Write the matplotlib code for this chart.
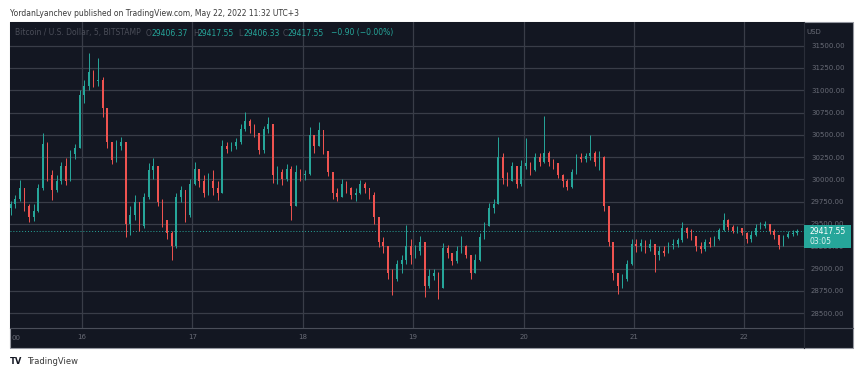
import numpy as np
import matplotlib.pyplot as plt
from matplotlib.patches import Rectangle

# hourly candles, BTC/USD (Bitstamp), 15 May 08:00 -> 22 May 11:00 (UTC+3)
first_open = 29680
closes = [
    29720, 29780, 29900, 29700, 29580, 29650, 29900, 30400, 30050, 29880, 29980, 30150, 29980, 30280, 30350, 30950,
    31050, 31200, 31100, 31120, 30800, 30420, 30220, 30380, 30420, 29500, 29600, 29750, 29480, 29800, 30100, 30150, 29750, 29550, 29400, 29250, 29800, 29880, 29600, 29950,
    30120, 29980, 29850, 29980, 29900, 29850, 30380, 30340, 30370, 30420, 30560, 30650, 30600, 30520, 30330, 30560, 30620, 30050, 30080, 30000, 30120, 29700, 30080, 30050,
    30060, 30500, 30380, 30550, 30320, 30080, 29850, 29800, 29950, 29900, 29820, 29850, 29950, 29900, 29820, 29580, 29300, 29250, 28950, 28880, 29050, 29100, 29250, 29150,
    29200, 29300, 28800, 28920, 28950, 28780, 29230, 29180, 29080, 29200, 29250, 29150, 28950, 29100, 29350, 29480, 29680, 29720, 30250, 30020, 29980, 30150, 29950, 30150,
    30180, 30100, 30250, 30200, 30300, 30200, 30180, 30050, 29980, 29920, 30080, 30250, 30230, 30260, 30300, 30200, 30250, 29700, 29300, 28950, 28800, 28880, 29050, 29280,
    29250, 29290, 29230, 29270, 29150, 29200, 29180, 29260, 29280, 29320, 29450, 29400, 29360, 29250, 29220, 29300, 29270, 29330, 29430, 29550, 29470, 29420, 29450, 29400,
    29330, 29380, 29460, 29480, 29500, 29420, 29380, 29260, 29350, 29390, 29400, 29417.55,
]
highs = [
    29760, 29830, 29990, 29900, 29720, 29720, 29950, 30520, 30420, 30100, 30050, 30200, 30240, 30330, 30400, 31000,
    31120, 31420, 31230, 31360, 31150, 30800, 30420, 30440, 30480, 30420, 29700, 29820, 29750, 29850, 30180, 30240, 30150, 29780, 29550, 29420, 29850, 29930, 29880, 30000,
    30200, 30120, 30050, 30070, 30100, 29980, 30440, 30420, 30420, 30460, 30620, 30760, 30680, 30620, 30500, 30600, 30700, 30620, 30150, 30120, 30170, 30150, 30160, 30120,
    30110, 30590, 30480, 30640, 30550, 30320, 30080, 29900, 30000, 29980, 29920, 29900, 29990, 29970, 29880, 29860, 29580, 29350, 29250, 29000, 29100, 29150, 29490, 29330,
    29260, 29360, 29300, 28990, 29000, 28960, 29290, 29260, 29180, 29250, 29370, 29260, 29150, 29160, 29400, 29520, 29740, 29780, 30480, 30300, 30080, 30200, 30150, 30220,
    30470, 30200, 30300, 30300, 30710, 30320, 30230, 30180, 30060, 30000, 30120, 30290, 30300, 30300, 30500, 30320, 30320, 30260, 29700, 29300, 28950, 28940, 29100, 29330,
    29330, 29330, 29320, 29330, 29280, 29250, 29250, 29300, 29330, 29340, 29520, 29470, 29440, 29360, 29300, 29330, 29350, 29370, 29460, 29620, 29560, 29490, 29480, 29460,
    29410, 29420, 29500, 29520, 29530, 29500, 29440, 29380, 29380, 29420, 29430, 29440,
]
lows = [
    29600, 29680, 29760, 29650, 29520, 29530, 29640, 29880, 29980, 29770, 29860, 29950, 29940, 29980, 30230, 30350,
    30860, 31000, 31040, 31050, 30700, 30350, 30170, 30200, 30330, 29350, 29380, 29550, 29420, 29450, 29780, 30000, 29700, 29470, 29330, 29100, 29230, 29750, 29520, 29580,
    29940, 29920, 29800, 29820, 29830, 29770, 29850, 30300, 30320, 30340, 30400, 30540, 30520, 30480, 30280, 30300, 30520, 29960, 29950, 29940, 29980, 29540, 29700, 29980,
    29990, 30050, 30300, 30380, 30280, 30040, 29780, 29760, 29800, 29850, 29780, 29760, 29840, 29850, 29780, 29500, 29240, 29180, 28880, 28700, 28860, 28950, 29050, 29050,
    29120, 29150, 28680, 28780, 28870, 28660, 28780, 29120, 29040, 29060, 29180, 29120, 28880, 28950, 29080, 29330, 29480, 29620, 29720, 29950, 29930, 29980, 29900, 29930,
    30120, 30050, 30090, 30150, 30180, 30150, 30120, 30020, 29920, 29880, 29900, 30060, 30190, 30200, 30220, 30150, 30100, 29650, 29250, 28870, 28720, 28780, 28860, 29040,
    29190, 29200, 29180, 29200, 28960, 29100, 29140, 29170, 29220, 29240, 29300, 29340, 29320, 29200, 29170, 29200, 29240, 29250, 29320, 29420, 29430, 29400, 29400, 29380,
    29290, 29300, 29370, 29440, 29450, 29390, 29330, 29220, 29250, 29340, 29360, 29380,
]
day_labels = ["16", "17", "18", "19", "20", "21", "22"]
price_ticks = [28500, 28750, 29000, 29250, 29500, 29750, 30000, 30250, 30500, 30750, 31000, 31250, 31500]
last_price = 29417.55

W, H = 860, 367
BG = "#131722"
UP = "#26a69a"
DOWN = "#ef5350"
GRID = "#393d48"
TXT = "#686b76"


def box(x0, y0, x1, y1):
    # pixel box (top-left origin) -> figure fraction rect
    return [x0 / W, 1 - y1 / H, (x1 - x0) / W, (y1 - y0) / H]


def main():
    fig = plt.figure(figsize=(W / 100, H / 100), dpi=100, facecolor="white")

    #### dark panel behind everything (chart + price scale + time scale)
    fig.patches.append(Rectangle((10 / W, 1 - 348 / H), 843 / W, 326 / H, transform=fig.transFigure,
                                 facecolor=BG, edgecolor="#9598a1", lw=0.8, zorder=-5))

    ax = fig.add_axes(box(10, 22, 804, 328))
    ax.set_zorder(1)
    ax.set_facecolor(BG)

    n = len(closes)
    t = 8.5 + np.arange(n)  # hour centres, 0 = 15 May 00:00
    opens = [first_open] + closes[:-1]
    cols = [UP if c >= o else DOWN for o, c in zip(opens, closes)]
    ax.vlines(t, lows, highs, colors=cols, lw=0.7, zorder=3)
    bottoms = [min(o, c) for o, c in zip(opens, closes)]
    heights = [max(abs(c - o), 6) for o, c in zip(opens, closes)]
    ax.bar(t, heights, bottom=bottoms, width=0.42, color=cols, lw=0, zorder=4)

    #### current price dotted line
    ax.axhline(last_price, color=UP, lw=0.7, ls=(0, (1, 2)), zorder=2)

    ax.set_xlim(8.348, 180.96)
    ax.set_ylim(28333, 31766)

    ax.set_xticks([24 * (i + 1) for i in range(len(day_labels))])
    ax.set_xticklabels(day_labels)
    ax.set_yticks(price_ticks)
    ax.set_yticklabels(["%.2f" % p for p in price_ticks])
    ax.yaxis.tick_right()
    ax.tick_params(axis="both", length=0, colors=TXT, labelsize=5)
    ax.tick_params(axis="y", pad=5)
    ax.tick_params(axis="x", pad=4)
    ax.grid(True, color=GRID, lw=0.9, zorder=1)
    for s in ax.spines.values():
        s.set_visible(False)

    #### scale separators
    fig.add_artist(plt.Line2D([804 / W, 804 / W], [1 - 348 / H, 1 - 22 / H], color="#2a2e39", lw=0.8, zorder=2))
    fig.add_artist(plt.Line2D([10 / W, 853 / W], [1 - 328 / H, 1 - 328 / H], color="#4a4e59", lw=0.8, zorder=2))

    fig.text(11 / W, 1 - 338 / H, "00", fontsize=5, color=TXT, va="center", ha="left")
    fig.text(806 / W, 1 - 32 / H, "USD", fontsize=5, color=TXT, va="center", ha="left")

    #### last price label
    fig.patches.append(Rectangle((804 / W, 1 - 248 / H), 47 / W, 23 / H, transform=fig.transFigure,
                                 facecolor=UP, edgecolor="none", zorder=5))
    fig.text(810 / W, 1 - 231.5 / H, "%.2f" % last_price, fontsize=5.5, color="white", va="center", zorder=6)
    fig.text(810 / W, 1 - 241.5 / H, "03:05", fontsize=5.5, color="#e0f2f1", va="center", zorder=6)

    #### header / legend line
    y_hdr = 1 - 33 / H
    fig.text(15 / W, y_hdr, "Bitcoin / U.S. Dollar, 5, BITSTAMP", fontsize=5.5, color="#4a4d58", va="center", zorder=6)
    parts = [(146, "O", "29406.37"), (193, "H", "29417.55"), (238, "L", "29406.33"), (283, "C", "29417.55")]
    for x, k, v in parts:
        fig.text(x / W, y_hdr, k, fontsize=5.5, color="#4a4d58", va="center", zorder=6)
        fig.text((x + 5) / W, y_hdr, v, fontsize=5.5, color=UP, va="center", zorder=6)
    fig.text(331 / W, y_hdr, "\u22120.90 (\u22120.00%)", fontsize=5.5, color=UP, va="center", zorder=6)

    #### publisher line and footer
    fig.text(10 / W, 1 - 13 / H, "YordanLyanchev published on TradingView.com, May 22, 2022 11:32 UTC+3",
             fontsize=5.5, color="#3a3a3a", va="center")
    fig.text(10 / W, 1 - 361 / H, "TV", fontsize=6, color="#131722", fontweight="black", va="center")
    fig.text(27 / W, 1 - 361 / H, "TradingView", fontsize=6, color="#3a3a3a", va="center")

    fig.savefig("out.png", dpi=100, facecolor="white")


if __name__ == '__main__':
    main()
